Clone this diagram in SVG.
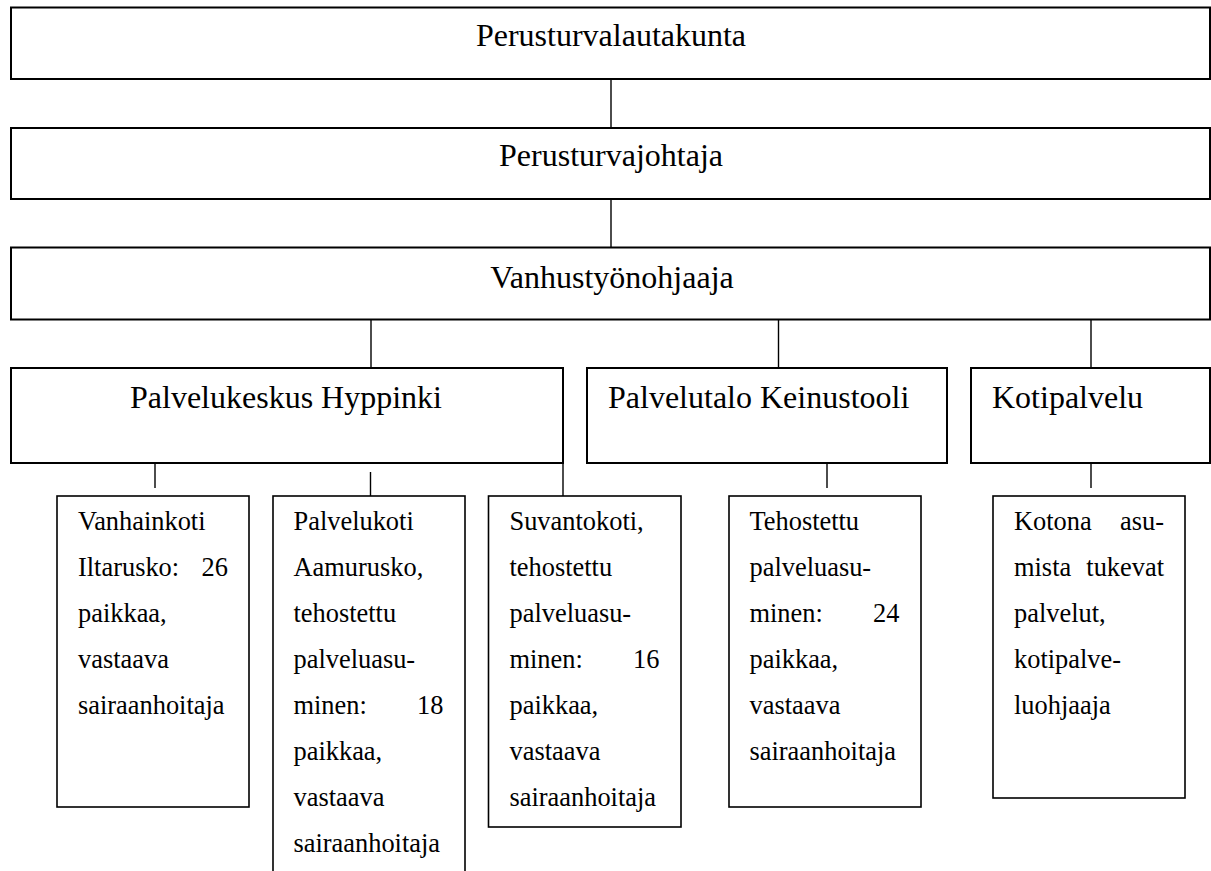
<svg xmlns="http://www.w3.org/2000/svg" width="1211" height="871" viewBox="0 0 1211 871">
<style>
.box{fill:#fff;stroke:#000;stroke-width:2}
.sbox{fill:#fff;stroke:#000;stroke-width:1.6}
.big{font-family:"Liberation Serif","Times New Roman",serif;font-size:32px;fill:#000}
.sm{font-family:"Liberation Serif","Times New Roman",serif;font-size:26.4px;fill:#000}
.c{text-anchor:middle}
.e{text-anchor:end}
#connectors line{stroke:#000;stroke-width:1.4}
</style>
<rect width="1211" height="871" fill="#fff"/>
<g id="connectors">
<line x1="611" y1="79" x2="611" y2="128"/>
<line x1="611" y1="199" x2="611" y2="247.5"/>
<line x1="371" y1="319.5" x2="371" y2="368"/>
<line x1="778.5" y1="319.5" x2="778.5" y2="368"/>
<line x1="1091" y1="319.5" x2="1091" y2="368"/>
<line x1="155" y1="463" x2="155" y2="488"/>
<line x1="370.5" y1="472" x2="370.5" y2="496"/>
<line x1="563" y1="463" x2="563" y2="496"/>
<line x1="827" y1="463" x2="827" y2="488"/>
<line x1="1091" y1="463" x2="1091" y2="488"/>
</g>
<g id="perusturvalautakunta">
<rect class="box" x="11" y="7.5" width="1199" height="71.5"/>
<text class="big c" x="611" y="46">Perusturvalautakunta</text>
</g>
<g id="perusturvajohtaja">
<rect class="box" x="11" y="128" width="1199" height="71"/>
<text class="big c" x="611" y="166">Perusturvajohtaja</text>
</g>
<g id="vanhustyonohjaaja">
<rect class="box" x="11" y="247.5" width="1199" height="72"/>
<text class="big c" x="612" y="288">Vanhustyönohjaaja</text>
</g>
<g id="hyppinki">
<rect class="box" x="11" y="368" width="552" height="95"/>
<text class="big c" x="286" y="407.5">Palvelukeskus Hyppinki</text>
</g>
<g id="keinustooli">
<rect class="box" x="587" y="368" width="360" height="95"/>
<text class="big" x="608" y="407.5">Palvelutalo Keinustooli</text>
</g>
<g id="kotipalvelu">
<rect class="box" x="971" y="368" width="239" height="95"/>
<text class="big" x="992" y="407.5">Kotipalvelu</text>
</g>
<g id="vanhainkoti">
<rect class="sbox" x="57" y="496" width="192" height="311"/>
<text class="sm" x="78" y="530">Vanhainkoti</text>
<text class="sm" x="78" y="576">Iltarusko:</text>
<text class="sm e" x="228" y="576">26</text>
<text class="sm" x="78" y="622">paikkaa,</text>
<text class="sm" x="78" y="668">vastaava</text>
<text class="sm" x="78" y="714">sairaanhoitaja</text>
</g>
<g id="aamurusko">
<rect class="sbox" x="273" y="496" width="192" height="390"/>
<text class="sm" x="293.5" y="530">Palvelukoti</text>
<text class="sm" x="293.5" y="576">Aamurusko,</text>
<text class="sm" x="293.5" y="622">tehostettu</text>
<text class="sm" x="293.5" y="668">palveluasu-</text>
<text class="sm" x="293.5" y="714">minen:</text>
<text class="sm e" x="443.5" y="714">18</text>
<text class="sm" x="293.5" y="760">paikkaa,</text>
<text class="sm" x="293.5" y="806">vastaava</text>
<text class="sm" x="293.5" y="852">sairaanhoitaja</text>
</g>
<g id="suvantokoti">
<rect class="sbox" x="488.5" y="496" width="192.5" height="331"/>
<text class="sm" x="509.5" y="530">Suvantokoti,</text>
<text class="sm" x="509.5" y="576">tehostettu</text>
<text class="sm" x="509.5" y="622">palveluasu-</text>
<text class="sm" x="509.5" y="668">minen:</text>
<text class="sm e" x="659.5" y="668">16</text>
<text class="sm" x="509.5" y="714">paikkaa,</text>
<text class="sm" x="509.5" y="760">vastaava</text>
<text class="sm" x="509.5" y="806">sairaanhoitaja</text>
</g>
<g id="tehostettu">
<rect class="sbox" x="729" y="496" width="192" height="311"/>
<text class="sm" x="749.5" y="530">Tehostettu</text>
<text class="sm" x="749.5" y="576">palveluasu-</text>
<text class="sm" x="749.5" y="622">minen:</text>
<text class="sm e" x="899.5" y="622">24</text>
<text class="sm" x="749.5" y="668">paikkaa,</text>
<text class="sm" x="749.5" y="714">vastaava</text>
<text class="sm" x="749.5" y="760">sairaanhoitaja</text>
</g>
<g id="kotona">
<rect class="sbox" x="993" y="496" width="192" height="302"/>
<text class="sm" x="1014" y="530">Kotona</text>
<text class="sm e" x="1164" y="530">asu-</text>
<text class="sm" x="1014" y="576">mista</text>
<text class="sm e" x="1164" y="576">tukevat</text>
<text class="sm" x="1014" y="622">palvelut,</text>
<text class="sm" x="1014" y="668">kotipalve-</text>
<text class="sm" x="1014" y="714">luohjaaja</text>
</g>
</svg>
